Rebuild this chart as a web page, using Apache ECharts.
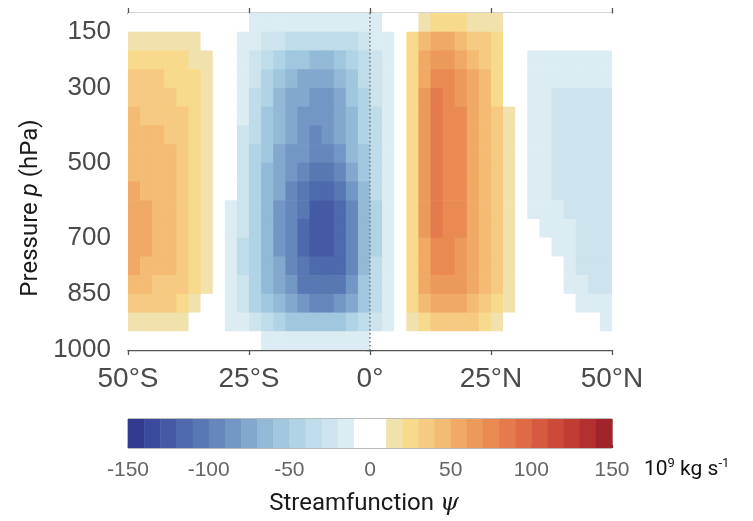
<!DOCTYPE html>
<html>
<head>
<meta charset="utf-8">
<script src="https://cdn.jsdelivr.net/npm/echarts@6/dist/echarts.min.js"></script>
<style>
  html, body { margin: 0; background: #fff; }
  #chart { width: 753px; height: 521px; }
</style>
</head>
<body>
<div id="chart"></div>
<script>
// cell centres: latitude (deg, S negative) and pressure (hPa)
const lats = [-48.75, -46.25, -43.75, -41.25, -38.75, -36.25, -33.75, -31.25, -28.75, -26.25,
  -23.75, -21.25, -18.75, -16.25, -13.75, -11.25, -8.75, -6.25, -3.75, -1.25,
  1.25, 3.75, 6.25, 8.75, 11.25, 13.75, 16.25, 18.75, 21.25, 23.75,
  26.25, 28.75, 31.25, 33.75, 36.25, 38.75, 41.25, 43.75, 46.25, 48.75];
const levels = [125, 175, 225, 275, 325, 375, 425, 475, 525, 575, 625, 675, 725, 775, 825, 875, 925, 975];

// streamfunction (10^9 kg/s), one row per pressure level
const psi125 = [0, 0, 0, 0, 0, 0, 0, 0, 0, -5, -11, -12, -13, -14, -15, -15, -15, -14, -13, -12, -11, -6, 0, 8, 15, 20, 21, 20, 18, 16, 13, 5, 0, 0, 0, 0, 0, 0, 0, 0];
const psi175 = [11, 12, 12, 12, 11, 11, 4, 0, 0, -11, -18, -24, -30, -34, -37, -40, -40, -37, -32, -26, -20, -13, -2, 20, 40, 50, 50, 45, 38, 30, 22, 8, 0, -6, -7, -7, -7, -7, -7, -7];
const psi225 = [21, 21, 21, 21, 21, 17, 12, 3, 0, -13, -25, -36, -45, -52, -57, -62, -61, -55, -46, -36, -26, -15, -2, 25, 52, 66, 65, 57, 47, 37, 25, 9, -4, -11, -12, -13, -13, -13, -13, -13];
const psi275 = [31, 31, 31, 29, 26, 22, 15, 6, -3, -15, -30, -43, -54, -64, -71, -78, -77, -67, -54, -40, -27, -14, -1, 27, 58, 78, 75, 65, 54, 42, 28, 9, -8, -13, -15, -17, -18, -18, -18, -18];
const psi325 = [35, 34, 33, 31, 29, 24, 16, 7, -5, -18, -35, -50, -62, -72, -80, -87, -86, -75, -60, -46, -30, -15, 0, 28, 60, 83, 78, 69, 58, 45, 29, 9, -8, -14, -17, -21, -21, -21, -21, -21];
const psi375 = [41, 38, 36, 34, 31, 26, 17, 8, -6, -20, -38, -54, -66, -75, -82, -89, -88, -77, -62, -48, -31, -15, 0, 28, 60, 84, 78, 70, 59, 46, 30, 11, -8, -15, -18, -21, -23, -23, -23, -23];
const psi425 = [44, 42, 41, 37, 33, 27, 18, 8, -7, -21, -40, -56, -69, -78, -85, -91, -89, -80, -64, -50, -32, -16, 0, 28, 60, 85, 78, 70, 59, 46, 30, 11, -8, -15, -18, -21, -23, -24, -24, -24];
const psi475 = [47, 45, 42, 41, 35, 28, 18, 8, -8, -22, -41, -58, -72, -82, -89, -95, -93, -84, -70, -53, -34, -17, 0, 28, 61, 85, 78, 70, 59, 47, 30, 11, -8, -15, -18, -21, -23, -24, -24, -24];
const psi525 = [49, 47, 44, 41, 36, 29, 18, 8, -9, -24, -43, -61, -76, -88, -98, -105, -103, -92, -76, -57, -37, -18, -1, 28, 61, 85, 78, 70, 59, 47, 31, 11, -8, -15, -18, -21, -23, -24, -24, -24];
const psi575 = [52, 49, 46, 42, 37, 29, 18, 8, -9, -26, -45, -63, -79, -93, -106, -114, -112, -104, -88, -64, -40, -19, -1, 28, 61, 85, 78, 70, 59, 47, 31, 12, -8, -14, -17, -21, -22, -24, -24, -24];
const psi625 = [55, 51, 47, 43, 37, 29, 18, 8, -11, -28, -47, -64, -81, -96, -110, -121, -121, -112, -95, -68, -42, -19, -1, 28, 61, 84, 78, 70, 59, 47, 31, 12, -5, -11, -15, -18, -21, -23, -23, -23];
const psi675 = [57, 52, 47, 43, 37, 29, 17, 7, -13, -30, -48, -65, -82, -98, -112, -124, -124, -116, -95, -68, -42, -19, -2, 28, 60, 82, 78, 70, 59, 47, 31, 12, -3, -8, -13, -16, -19, -22, -23, -23];
const psi725 = [55, 51, 46, 42, 36, 28, 16, 6, -14, -31, -48, -65, -82, -97, -111, -123, -123, -115, -95, -68, -42, -19, -2, 27, 58, 79, 77, 69, 59, 47, 32, 15, 1, -6, -9, -15, -19, -21, -22, -22];
const psi775 = [51, 48, 44, 41, 35, 27, 15, 5, -14, -31, -48, -64, -80, -95, -108, -118, -119, -112, -93, -66, -40, -18, -1, 26, 55, 74, 73, 66, 57, 46, 32, 16, 3, -4, -7, -9, -16, -21, -22, -22];
const psi825 = [45, 43, 39, 37, 32, 25, 13, 4, -14, -30, -46, -61, -75, -88, -101, -108, -108, -101, -85, -60, -36, -17, -1, 24, 50, 68, 67, 61, 53, 43, 30, 15, 3, -2, -4, -8, -12, -17, -21, -21];
const psi875 = [37, 35, 33, 31, 27, 17, 8, 2, -13, -27, -41, -54, -66, -76, -85, -92, -92, -86, -72, -52, -31, -14, 0, 20, 42, 56, 56, 52, 45, 37, 26, 12, 1, 0, -1, -4, -8, -12, -15, -17];
const psi925 = [19, 18, 17, 15, 12, 8, 3, 0, -11, -20, -30, -38, -45, -52, -57, -60, -60, -57, -48, -36, -22, -11, 0, 12, 26, 34, 35, 34, 30, 25, 18, 6, 0, 0, 0, 0, -3, -6, -9, -11];
const psi975 = [6, 6, 5, 4, 3, 2, 0, 0, 0, -4, -8, -11, -13, -15, -17, -18, -18, -17, -14, -11, -8, -4, 0, 4, 7, 8, 8, 8, 7, 6, 4, 1, 0, 0, 0, 0, 0, 0, 0, 0];

const psiRows = [psi125, psi175, psi225, psi275, psi325, psi375, psi425, psi475, psi525,
  psi575, psi625, psi675, psi725, psi775, psi825, psi875, psi925, psi975];

// axes and colour scale
const xTicks = [-50, -25, 0, 25, 50];
const xLabels = ['50°S', '25°S', '0°', '25°N', '50°N'];
const yTicks = [150, 300, 500, 700, 850, 1000];
const binEdges = [-150, -140, -130, -120, -110, -100, -90, -80, -70, -60, -50, -40, -30, -20, -10,
  10, 20, 30, 40, 50, 60, 70, 80, 90, 100, 110, 120, 130, 140, 150];
const binColors = ['#313a8f', '#3a4b9d', '#445aa5', '#4e69ac', '#5877b3', '#6587bb', '#7397c4',
  '#82a8cd', '#92b9d6', '#a1c7de', '#b0d3e5', '#bfdcea', '#cde4ee', '#dcecf3', '#ffffff',
  '#f1e2ad', '#f7da8c', '#f6ca82', '#f3bb74', '#f0aa65', '#ec9a5b', '#e98a53', '#e57a4c',
  '#df6a46', '#d75a40', '#cd4a3a', '#c23c34', '#b42f2f', '#a1232b'];

const cells = [];
psiRows.forEach((row, j) => {
  row.forEach((v, i) => cells.push([lats[i], levels[j], v]));
});
const halfLat = (lats[1] - lats[0]) / 2;
const halfP = (levels[1] - levels[0]) / 2;

const bins = [];
for (let i = 0; i < binEdges.length - 1; i++) {
  bins.push([binEdges[i], binEdges[i + 1], (binEdges[i] + binEdges[i + 1]) / 2]);
}
const pieces = bins.map((b, i) => ({ gte: b[0], lt: b[1], color: binColors[i] }));
pieces[pieces.length - 1] = { gte: bins[bins.length - 1][0], lte: 150, color: binColors[binColors.length - 1] };

const tickFont = 'Liberation Sans';
const axisGray = '#555';

const chart = echarts.init(document.getElementById('chart'));
chart.setOption({
  animation: false,
  backgroundColor: '#fff',
  grid: [
    { left: 128, top: 13, width: 484, height: 337 },
    { left: 128, top: 419, width: 484, height: 29, show: true, borderColor: '#777', borderWidth: 1 }
  ],
  visualMap: {
    type: 'piecewise',
    show: false,
    dimension: 2,
    seriesIndex: [0, 1],
    pieces: pieces
  },
  xAxis: [
    {
      type: 'value', gridIndex: 0, position: 'bottom', min: -50, max: 50, interval: 25,
      axisLine: { lineStyle: { color: axisGray, width: 1.3 } },
      axisTick: { length: 5, lineStyle: { color: axisGray, width: 1.3 } },
      axisLabel: {
        margin: 15, fontSize: 28, color: '#4a4a4a', fontFamily: tickFont,
        formatter: v => xLabels[xTicks.indexOf(v)] || ''
      },
      splitLine: { show: false }
    },
    {
      type: 'value', gridIndex: 0, position: 'top', min: -50, max: 50, interval: 25,
      axisLine: { lineStyle: { color: axisGray, width: 1.3 } },
      axisTick: { length: 5, lineStyle: { color: axisGray, width: 1.3 } },
      axisLabel: { show: false },
      splitLine: { show: false }
    },
    {
      type: 'value', gridIndex: 1, min: -150, max: 150, interval: 50,
      axisLine: { show: false },
      axisTick: { inside: true, length: 3, lineStyle: { color: '#333', width: 1.2 } },
      axisLabel: { margin: 12, fontSize: 21, color: '#666', fontFamily: tickFont },
      splitLine: { show: false }
    }
  ],
  yAxis: [
    {
      type: 'value', gridIndex: 0, position: 'left', inverse: true, min: 100, max: 1000,
      axisLine: { lineStyle: { color: axisGray, width: 1.3 } },
      axisTick: { length: 4, customValues: yTicks, lineStyle: { color: axisGray, width: 1.3 } },
      axisLabel: {
        margin: 17, fontSize: 26, color: '#4a4a4a', fontFamily: tickFont, customValues: yTicks,
        formatter: v => String(v)
      },
      splitLine: { show: false }
    },
    {
      type: 'value', gridIndex: 0, position: 'right', inverse: true, min: 100, max: 1000,
      axisLine: { lineStyle: { color: axisGray, width: 1.3 } },
      axisTick: { length: 4, customValues: yTicks, lineStyle: { color: axisGray, width: 1.3 } },
      axisLabel: { show: false, customValues: yTicks },
      splitLine: { show: false }
    },
    { type: 'value', gridIndex: 1, min: 0, max: 1, show: false }
  ],
  series: [
    {
      type: 'custom',
      xAxisIndex: 0,
      yAxisIndex: 0,
      clip: true,
      data: cells,
      encode: { x: 0, y: 1 },
      renderItem: (params, api) => {
        const a = api.coord([api.value(0) - halfLat, api.value(1) - halfP]);
        const b = api.coord([api.value(0) + halfLat, api.value(1) + halfP]);
        return {
          type: 'rect',
          shape: {
            x: Math.min(a[0], b[0]), y: Math.min(a[1], b[1]),
            width: Math.abs(b[0] - a[0]) + 0.6, height: Math.abs(b[1] - a[1]) + 0.6
          },
          style: { fill: api.visual('color') }
        };
      },
      markLine: {
        silent: true,
        symbol: 'none',
        label: { show: false },
        lineStyle: { color: '#777', type: [1.5, 2.5], width: 1.5 },
        data: [{ xAxis: 0 }]
      }
    },
    {
      type: 'custom',
      xAxisIndex: 2,
      yAxisIndex: 2,
      data: bins,
      encode: { x: [0, 1] },
      renderItem: (params, api) => {
        const a = api.coord([api.value(0), 0]);
        const b = api.coord([api.value(1), 1]);
        return {
          type: 'rect',
          shape: { x: a[0], y: b[1], width: b[0] - a[0] + 0.5, height: a[1] - b[1] },
          style: { fill: api.visual('color') }
        };
      }
    }
  ],
  graphic: [
    {
      type: 'text', x: 31, y: 208, rotation: Math.PI / 2,
      style: {
        text: 'Pressure {i|p} (hPa)', x: 0, y: 0, align: 'center', verticalAlign: 'middle',
        fontFamily: 'Roboto', fontSize: 24, fill: '#1a1a1a',
        rich: { i: { fontFamily: 'Roboto', fontSize: 24, fontStyle: 'italic', fill: '#1a1a1a' } }
      }
    },
    {
      type: 'text', x: 364, y: 504,
      style: {
        text: 'Streamfunction {i|ψ}', x: 0, y: 0, align: 'center', verticalAlign: 'middle',
        fontFamily: 'Roboto', fontSize: 24, fill: '#1a1a1a',
        rich: { i: { fontFamily: 'DejaVu Serif', fontSize: 24, fontStyle: 'italic', fill: '#1a1a1a' } }
      }
    },
    {
      type: 'text', x: 644, y: 470,
      style: {
        text: '10{s|9} kg s{s|-1}', x: 0, y: 0, align: 'left', verticalAlign: 'middle',
        fontFamily: 'Roboto', fontSize: 21, fill: '#111',
        rich: {
          s: { fontFamily: 'Roboto', fontSize: 13, fill: '#111', verticalAlign: 'top', lineHeight: 26 }
        }
      }
    }
  ]
});
</script>
</body>
</html>
